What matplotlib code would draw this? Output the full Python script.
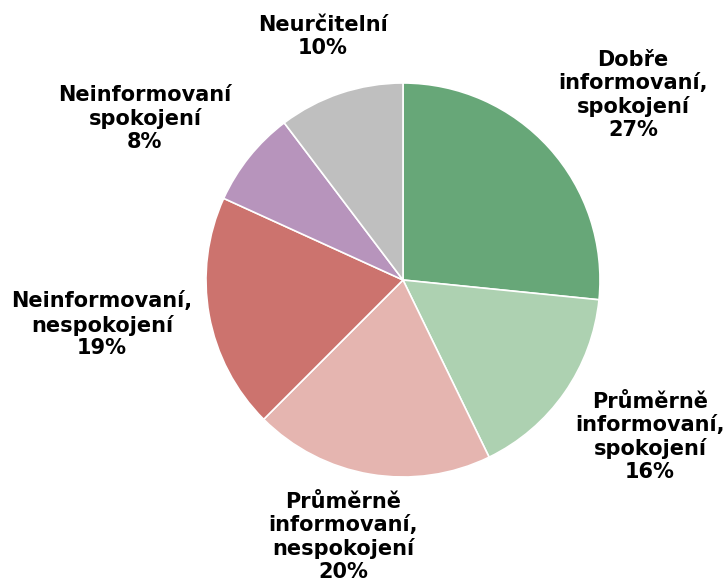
import matplotlib.pyplot as plt

labels = ['Dobře\ninformovaní,\nspokojení', 'Průměrně\ninformovaní,\nspokojení',
          'Průměrně\ninformovaní,\nnespokojení', 'Neinformovaní,\nnespokojení',
          'Neinformovaní\nspokojení', 'Neurčitelní']
shares = [26.6, 16.2, 19.7, 19.3, 7.9, 10.3]
colors = ['#67a778', '#add1b1', '#e5b5b0', '#cc736e', '#b794bc', '#bfbfbf']

# label centres in data units (pie radius = 1)
label_pos = [(1.168, 0.939), (1.254, -0.797), (-0.305, -1.305),
             (-1.528, -0.228), (-1.310, 0.822), (-0.406, 1.234)]

fig = plt.figure(figsize=(7.27, 5.88), dpi=100)
ax = fig.add_axes([0, 0, 1, 1])
ax.pie(shares, colors=colors, startangle=90, counterclock=False,
       wedgeprops=dict(edgecolor='white', linewidth=1.2))

for lab, val, (x, y) in zip(labels, shares, label_pos):
    ax.text(x, y, f'{lab}\n{val:.0f}%', ha='center', va='center',
            fontsize=15, fontweight='bold', family='DejaVu Sans',
            linespacing=1.18, color='black')

ax.set_xlim(-403 / 197, (727 - 403) / 197)
ax.set_ylim((280 - 588) / 197, 280 / 197)
ax.set_aspect('auto')
ax.axis('off')

fig.savefig('out.png', dpi=100)
